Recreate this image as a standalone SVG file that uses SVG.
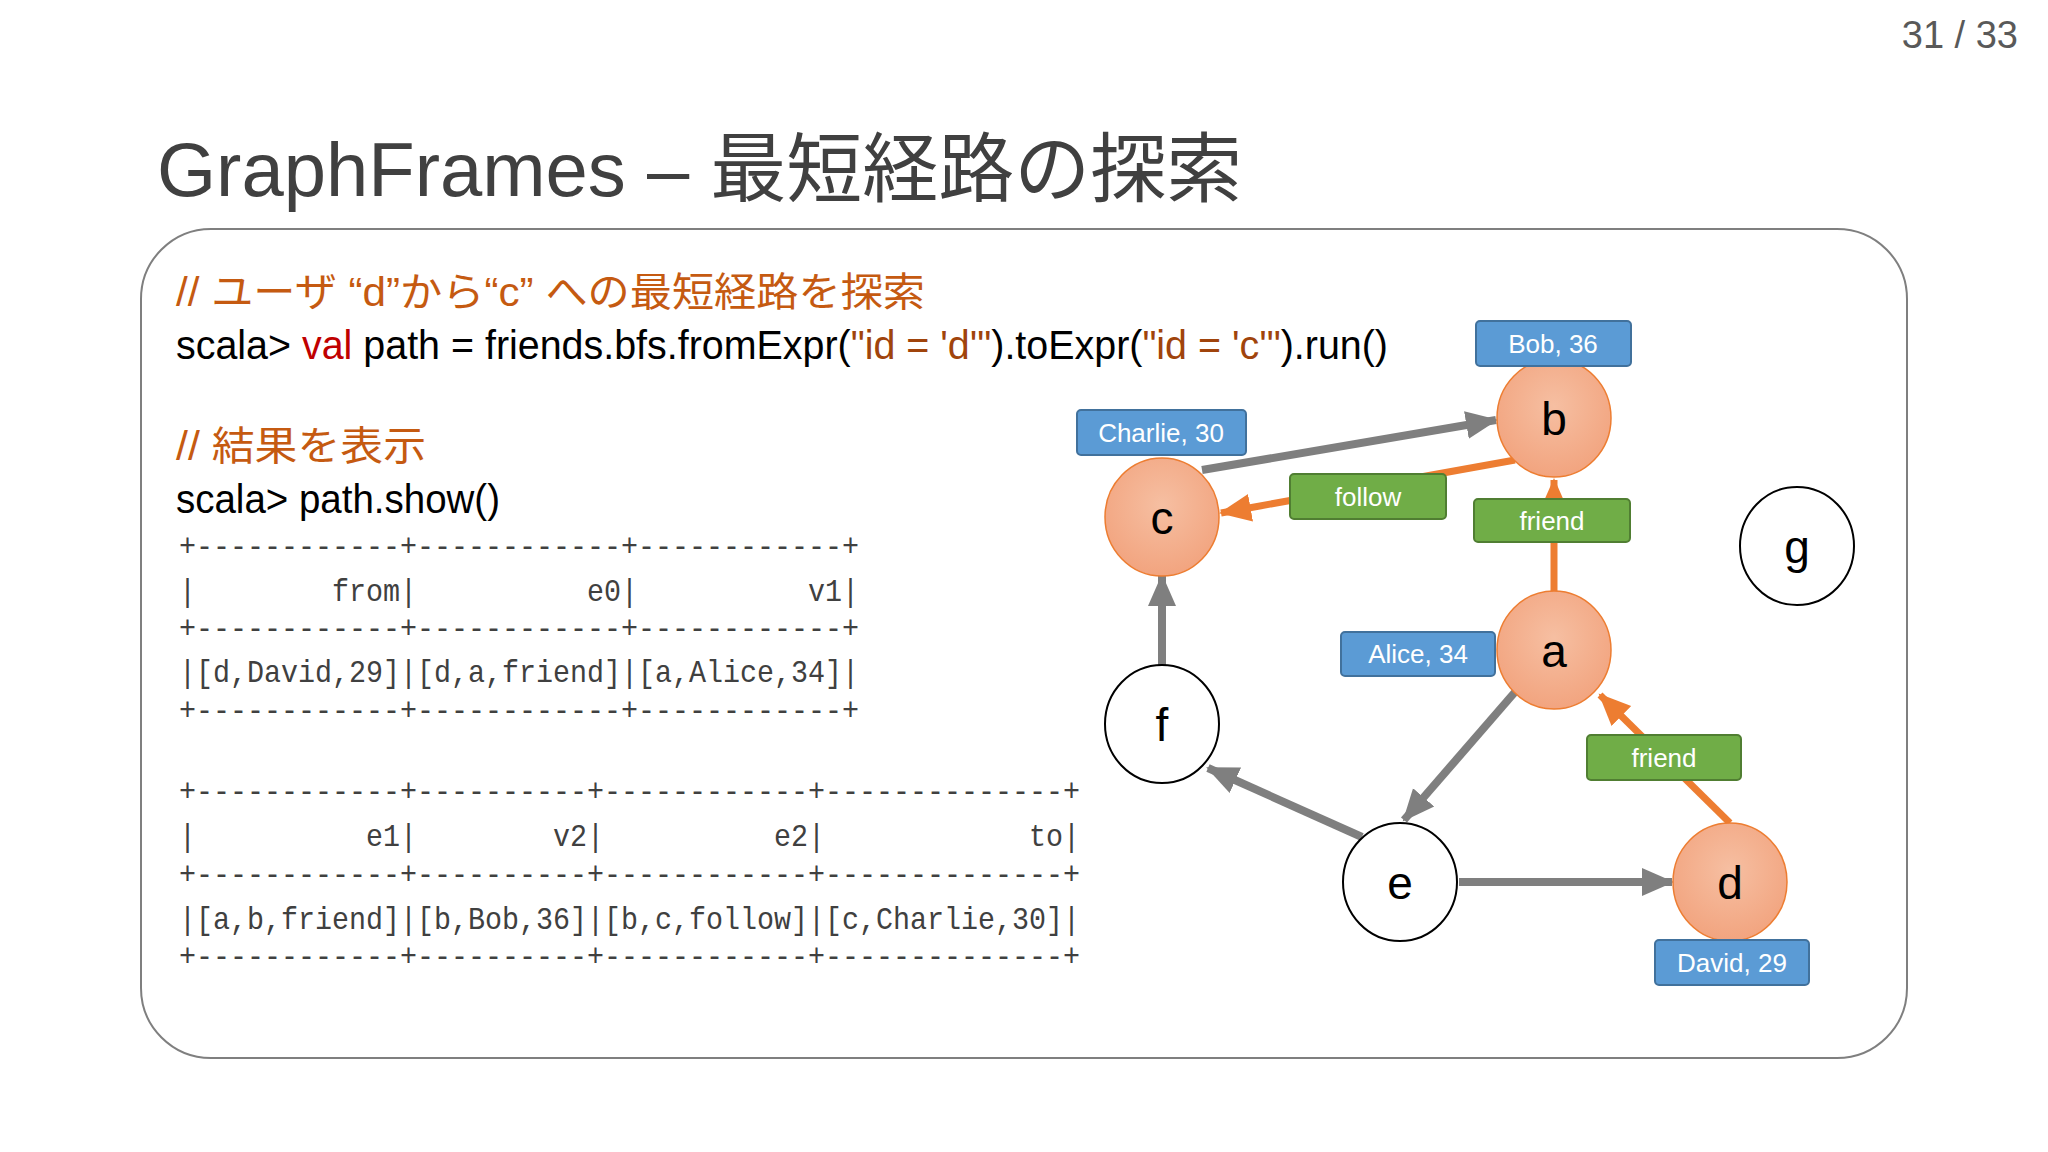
<svg xmlns="http://www.w3.org/2000/svg" width="2048" height="1152" viewBox="0 0 2048 1152">
<defs>
<style>
.t{font-family:"Liberation Sans","Noto Sans CJK JP",sans-serif}
.m{font-family:"Liberation Mono",monospace;font-size:32px;fill:#404040}
.node{stroke:#ED7D31;stroke-width:1.5;fill:url(#pg)}
.wnode{stroke:#000;stroke-width:2;fill:#fff}
.ltr{font-family:"Liberation Sans",sans-serif;font-size:46px;fill:#000;text-anchor:middle}
.blue{fill:#5B9BD5;stroke:#41719C;stroke-width:2}
.green{fill:#70AD47;stroke:#507E32;stroke-width:2}
.lab{font-family:"Liberation Sans",sans-serif;font-size:26px;fill:#fff;text-anchor:middle}
.g{stroke:#7F7F7F;stroke-width:8;fill:none}
.o{stroke:#ED7D31;stroke-width:7;fill:none}
</style>
<radialGradient id="pg" cx="0.5" cy="0.4" r="0.6"><stop offset="0" stop-color="#F6BFA2"/><stop offset="1" stop-color="#F2A47F"/></radialGradient>
<marker id="ag" markerUnits="userSpaceOnUse" markerWidth="34" markerHeight="32" refX="30" refY="16" orient="auto"><path d="M0,2 L32,16 L0,30 Z" fill="#7F7F7F"/></marker>
<marker id="ao" markerUnits="userSpaceOnUse" markerWidth="34" markerHeight="32" refX="30" refY="16" orient="auto"><path d="M0,2 L32,16 L0,30 Z" fill="#ED7D31"/></marker>
</defs>
<rect width="2048" height="1152" fill="#fff"/>
<text class="t" x="2018" y="48" font-size="38" fill="#595959" text-anchor="end">31  /  33</text>
<text class="t" x="157" y="196" font-size="76" fill="#404040">GraphFrames – 最短経路の探索</text>
<rect x="141" y="229" width="1766" height="829" rx="70" fill="#fff" stroke="#7F7F7F" stroke-width="2"/>
<text class="t" x="176" y="306" font-size="40" fill="#C55A11" textLength="749" lengthAdjust="spacingAndGlyphs">// ユーザ “d”から“c” への最短経路を探索</text>
<text class="t" x="176" y="359" font-size="40" fill="#000" textLength="1212" lengthAdjust="spacingAndGlyphs">scala&gt; <tspan fill="#C00000">val</tspan> path = friends.bfs.fromExpr(<tspan fill="#A0440C">"id = 'd'"</tspan>).toExpr(<tspan fill="#A0440C">"id = 'c'"</tspan>).run()</text>
<text class="t" x="176" y="460" font-size="40" fill="#C55A11" textLength="250" lengthAdjust="spacingAndGlyphs">// 結果を表示</text>
<text class="t" x="176" y="513" font-size="40" fill="#000" textLength="324" lengthAdjust="spacingAndGlyphs">scala&gt; path.show()</text>
<g id="table1">
<text class="m" x="179" y="556" textLength="680" lengthAdjust="spacingAndGlyphs" xml:space="preserve">+------------+------------+------------+</text>
<text class="m" x="179" y="601" textLength="680" lengthAdjust="spacingAndGlyphs" xml:space="preserve">|        from|          e0|          v1|</text>
<text class="m" x="179" y="638" textLength="680" lengthAdjust="spacingAndGlyphs" xml:space="preserve">+------------+------------+------------+</text>
<text class="m" x="179" y="682" textLength="680" lengthAdjust="spacingAndGlyphs" xml:space="preserve">|[d,David,29]|[d,a,friend]|[a,Alice,34]|</text>
<text class="m" x="179" y="720" textLength="680" lengthAdjust="spacingAndGlyphs" xml:space="preserve">+------------+------------+------------+</text>
</g>
<g id="table2">
<text class="m" x="179" y="801" textLength="901" lengthAdjust="spacingAndGlyphs" xml:space="preserve">+------------+----------+------------+--------------+</text>
<text class="m" x="179" y="846" textLength="901" lengthAdjust="spacingAndGlyphs" xml:space="preserve">|          e1|        v2|          e2|            to|</text>
<text class="m" x="179" y="884" textLength="901" lengthAdjust="spacingAndGlyphs" xml:space="preserve">+------------+----------+------------+--------------+</text>
<text class="m" x="179" y="929" textLength="901" lengthAdjust="spacingAndGlyphs" xml:space="preserve">|[a,b,friend]|[b,Bob,36]|[b,c,follow]|[c,Charlie,30]|</text>
<text class="m" x="179" y="966" textLength="901" lengthAdjust="spacingAndGlyphs" xml:space="preserve">+------------+----------+------------+--------------+</text>
</g>
<g id="connectors">
<line class="g" x1="1202" y1="470" x2="1496" y2="420" marker-end="url(#ag)"/>
<line class="o" x1="1515" y1="460" x2="1221" y2="513" marker-end="url(#ao)"/>
<line class="o" x1="1554" y1="592" x2="1554" y2="480" marker-end="url(#ao)"/>
<line class="g" x1="1162" y1="665" x2="1162" y2="576" marker-end="url(#ag)"/>
<line class="g" x1="1515" y1="692" x2="1404" y2="820" marker-end="url(#ag)"/>
<line class="g" x1="1362" y1="837" x2="1208" y2="768" marker-end="url(#ag)"/>
<line class="g" x1="1459" y1="882" x2="1672" y2="882" marker-end="url(#ag)"/>
<line class="o" x1="1730" y1="823" x2="1600" y2="695" marker-end="url(#ao)"/>
</g>
<g id="node-b"><ellipse class="node" cx="1554" cy="418" rx="57" ry="59"/><text class="ltr" x="1554" y="435">b</text></g>
<g id="node-c"><ellipse class="node" cx="1162" cy="517" rx="57" ry="59"/><text class="ltr" x="1162" y="534">c</text></g>
<g id="node-a"><ellipse class="node" cx="1554" cy="650" rx="57" ry="59"/><text class="ltr" x="1554" y="667">a</text></g>
<g id="node-g"><ellipse class="wnode" cx="1797" cy="546" rx="57" ry="59"/><text class="ltr" x="1797" y="563">g</text></g>
<g id="node-f"><ellipse class="wnode" cx="1162" cy="724" rx="57" ry="59"/><text class="ltr" x="1162" y="741">f</text></g>
<g id="node-e"><ellipse class="wnode" cx="1400" cy="882" rx="57" ry="59"/><text class="ltr" x="1400" y="899">e</text></g>
<g id="node-d"><ellipse class="node" cx="1730" cy="882" rx="57" ry="59"/><text class="ltr" x="1730" y="899">d</text></g>
<g id="label-bob"><rect class="blue" x="1476" y="321" width="155" height="45" rx="4"/><text class="lab" x="1553" y="353">Bob, 36</text></g>
<g id="label-charlie"><rect class="blue" x="1077" y="410" width="169" height="45" rx="4"/><text class="lab" x="1161" y="442">Charlie, 30</text></g>
<g id="label-alice"><rect class="blue" x="1341" y="632" width="154" height="44" rx="4"/><text class="lab" x="1418" y="663">Alice, 34</text></g>
<g id="label-david"><rect class="blue" x="1655" y="940" width="154" height="45" rx="4"/><text class="lab" x="1732" y="972">David, 29</text></g>
<g id="label-follow"><rect class="green" x="1290" y="474" width="156" height="45" rx="4"/><text class="lab" x="1368" y="506">follow</text></g>
<g id="label-friend-ab"><rect class="green" x="1474" y="499" width="156" height="43" rx="4"/><text class="lab" x="1552" y="530">friend</text></g>
<g id="label-friend-da"><rect class="green" x="1587" y="735" width="154" height="45" rx="4"/><text class="lab" x="1664" y="767">friend</text></g>
</svg>
